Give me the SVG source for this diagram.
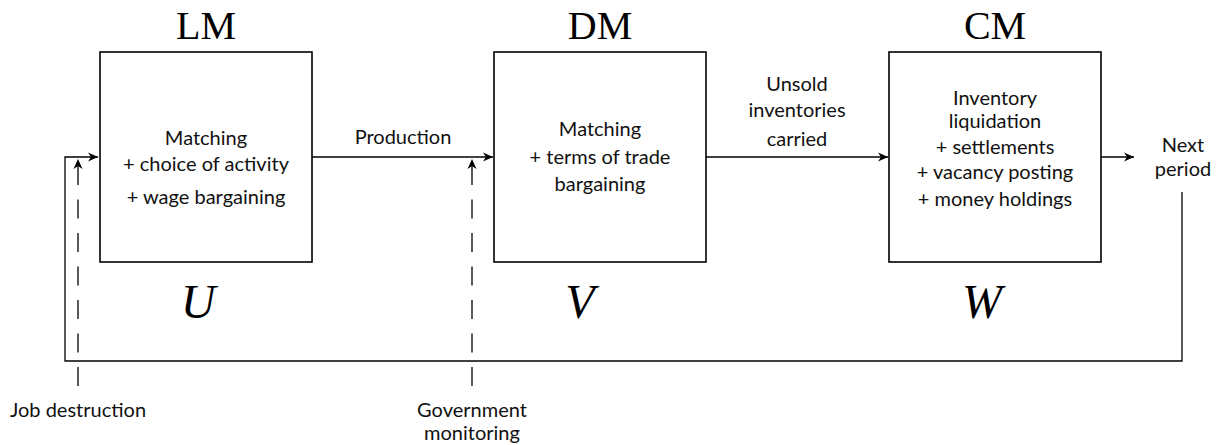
<svg xmlns="http://www.w3.org/2000/svg" width="1218" height="445" viewBox="0 0 1218 445">
<style>
.box{fill:#fff;stroke:#000;stroke-width:1.6}
.ln{fill:none;stroke:#000;stroke-width:1.3}
.dash{fill:none;stroke:#000;stroke-width:1.3;stroke-dasharray:19 14.5}
.t{font-family:Lato,"Liberation Sans",sans-serif;font-size:20px;fill:#111;text-anchor:middle}
.h{font-family:"Liberation Serif",serif;font-size:40px;fill:#000;text-anchor:middle}
.m{font-family:"Liberation Serif",serif;font-style:italic;font-size:48px;fill:#000;text-anchor:middle}
</style>
<defs>
<marker id="a" viewBox="0 0 10 10" refX="10" refY="5" markerWidth="10" markerHeight="10" markerUnits="userSpaceOnUse" orient="auto">
<path d="M0,0.5 L10,5 L0,9.5 L3,5 z" fill="#000"/>
</marker>
</defs>
<g id="connectors">
<path class="ln" d="M1182 192 L1182 361 L65 361 L65 157 L98 157" marker-end="url(#a)"/>
<path class="ln" d="M312 157 L493 157" marker-end="url(#a)"/>
<path class="ln" d="M706 157 L888 157" marker-end="url(#a)"/>
<path class="ln" d="M1101 157 L1134 157" marker-end="url(#a)"/>
<path class="dash" d="M78 386 L78 159" marker-end="url(#a)"/>
<path class="dash" d="M472 386 L472 159" marker-end="url(#a)"/>
<text class="t" x="403" y="144">Production</text>
<text class="t" x="797" y="91">Unsold</text>
<text class="t" x="797" y="117">inventories</text>
<text class="t" x="797" y="146">carried</text>
<text class="t" x="1183" y="152">Next</text>
<text class="t" x="1183" y="176">period</text>
<text class="t" x="78" y="417">Job destruction</text>
<text class="t" x="472" y="417">Government</text>
<text class="t" x="472" y="440">monitoring</text>
</g>
<g id="LM">
<rect class="box" x="100" y="52" width="212" height="210"/>
<text class="h" x="206" y="39">LM</text>
<text class="t" x="206" y="145">Matching</text>
<text class="t" x="206" y="171">+ choice of activity</text>
<text class="t" x="206" y="204">+ wage bargaining</text>
<text class="m" x="198" y="318">U</text>
</g>
<g id="DM">
<rect class="box" x="494" y="52" width="212" height="210"/>
<text class="h" x="600" y="39">DM</text>
<text class="t" x="600" y="136">Matching</text>
<text class="t" x="600" y="164">+ terms of trade</text>
<text class="t" x="600" y="191">bargaining</text>
<text class="m" x="580" y="318">V</text>
</g>
<g id="CM">
<rect class="box" x="889" y="52" width="212" height="210"/>
<text class="h" x="995" y="39">CM</text>
<text class="t" x="995" y="105">Inventory</text>
<text class="t" x="995" y="128">liquidation</text>
<text class="t" x="995" y="154">+ settlements</text>
<text class="t" x="995" y="179">+ vacancy posting</text>
<text class="t" x="995" y="206">+ money holdings</text>
<text class="m" x="982" y="318">W</text>
</g>
</svg>
